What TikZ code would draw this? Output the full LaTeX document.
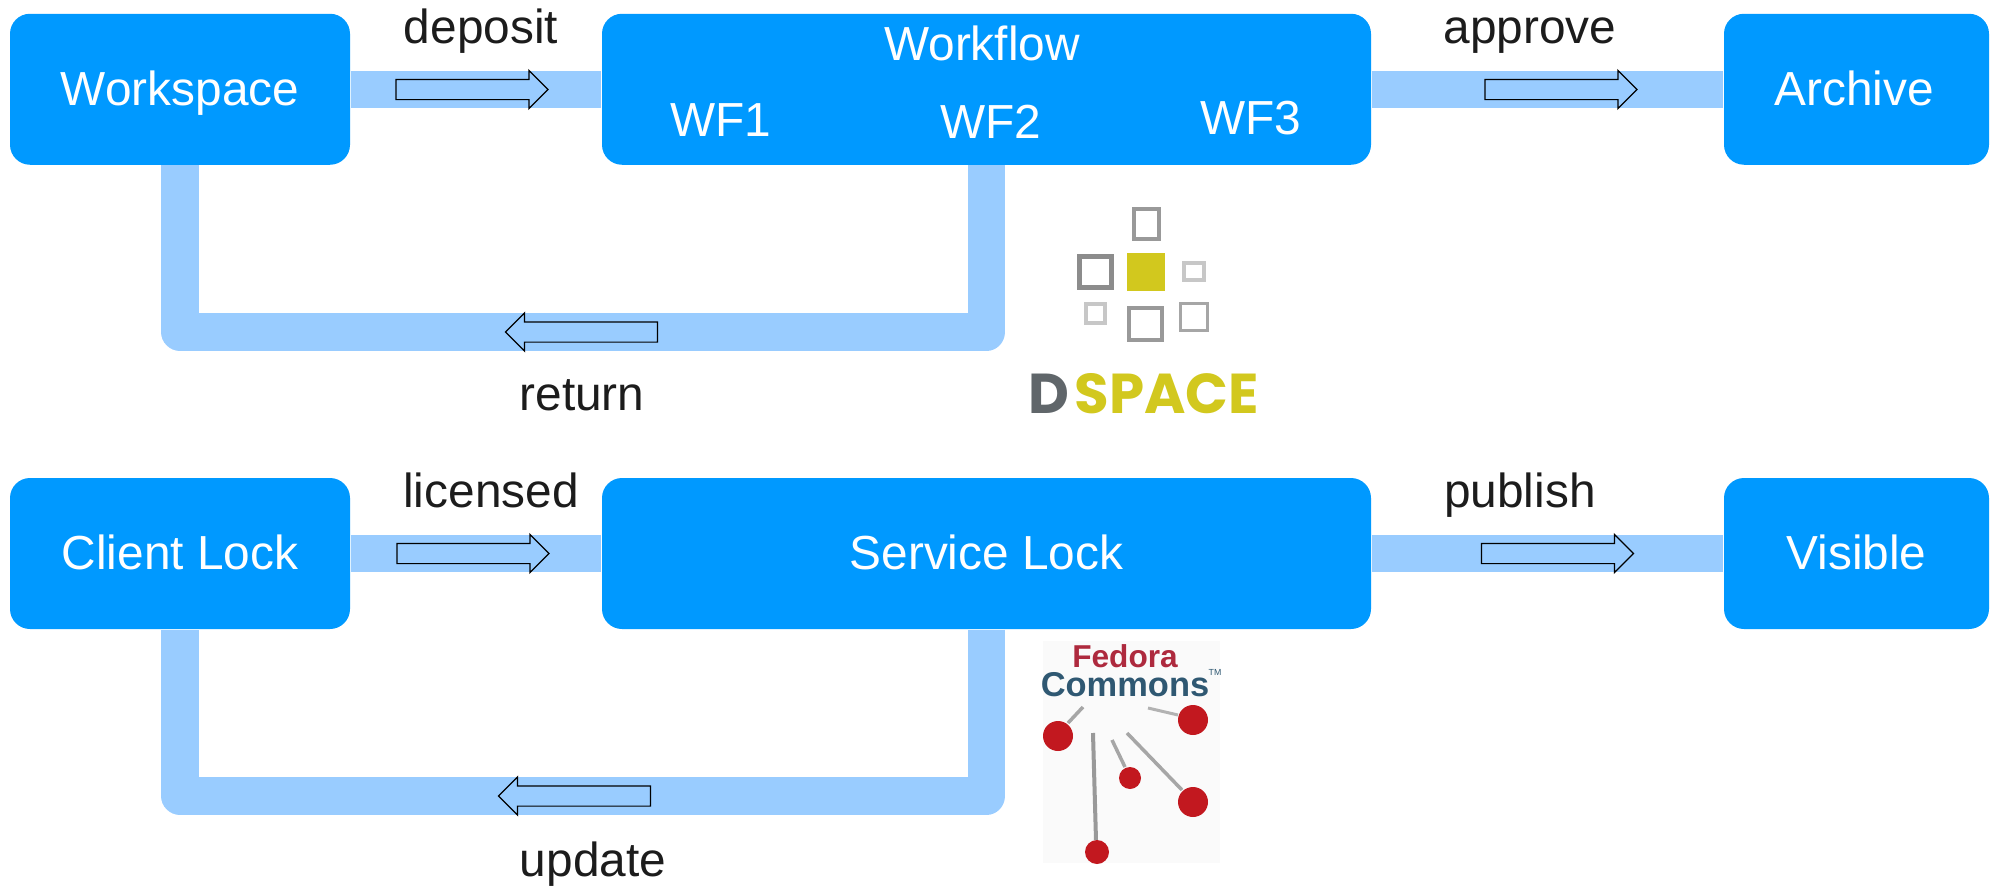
\documentclass[tikz,border=0pt]{standalone}
\usepackage{fontspec}
\setmainfont{Liberation Sans}
\newfontfamily\logofont{Poppins}
\usetikzlibrary{shapes.arrows}
\definecolor{boxblue}{HTML}{0099FF}
\definecolor{bandblue}{HTML}{99CCFF}
\definecolor{labelblack}{HTML}{1C1C1C}
\definecolor{dsyellow}{HTML}{D2C81E}
\definecolor{dsgray}{HTML}{60666A}
\definecolor{fcred}{HTML}{C2181F}
\definecolor{fcwine}{HTML}{AE2A3E}
\definecolor{fcblue}{HTML}{2F5872}
\tikzset{
	blockbox/.style={fill=boxblue, rounded corners=0.2cm, minimum height=1.51cm, inner sep=0pt, text=white, text height=0.32cm, text depth=0cm, font=\fontsize{13.6}{16}\selectfont},
	boxlabel/.style={anchor=base, inner sep=0pt, text=white, font=\fontsize{13.6}{16}\selectfont},
	flowlabel/.style={anchor=base, inner sep=0pt, text=labelblack, font=\fontsize{13.6}{16}\selectfont},
	band/.style={line width=0.375cm, color=bandblue, line join=round},
	flowarrow/.style={single arrow, draw=black, line width=0.12mm, inner sep=0pt, text height=0.19cm, text depth=0cm, minimum height=1.52cm, single arrow head extend=0.09cm, single arrow head indent=0cm},
	logotext/.style={anchor=base west, inner sep=0pt, font=\logofont\bfseries\fontsize{16}{19}\selectfont},
}
\begin{document}
\begin{tikzpicture}
			%%%%% START %%%%%
			\useasboundingbox (0, 0) rectangle (19.99, 8.85);
			
			\node[blockbox, minimum width=3.4cm] (workspace) at (1.8, 7.9575) {Workspace};
			\node[blockbox, minimum width=7.69cm] (workflow) at (9.865, 7.9575) {};
			\node[blockbox, minimum width=2.65cm] (archive) at (18.565, 7.9575) {Archive\hspace*{0.05cm}};
			
			\node[boxlabel] (workflowtitle) at (9.82, 8.25) {Workflow};
			\node[boxlabel] (wfone) at (7.21, 7.49) {WF1};
			\node[boxlabel] (wftwo) at (9.91, 7.47) {WF2};
			\node[boxlabel] (wfthree) at (12.51, 7.51) {WF3};
			
			\coordinate (returnmid) at (5.8, 5.53);
			\draw[band] (workspace) -- (workflow);
			\draw[band] (workflow) -- (archive);
			\draw[band] (workflow.south) |- (returnmid) -| (workspace.south);
			
			\node[flowarrow] (deposita) at (4.67, 7.955) {};
			\node[flowarrow] (approvea) at (15.56, 7.955) {};
			\node[flowarrow, shape border rotate=180] (returna) at (5.865, 5.53) {};
			
			\node[flowlabel] (deposit) at (4.81, 8.42) {deposit};
			\node[flowlabel] (approve) at (15.3, 8.42) {approve};
			\node[flowlabel] (return) at (5.82, 4.75) {return};
			
			%%%%% DSPACE LOGO %%%%%
			\draw[line width=0.4mm, color=black!40] (11.34, 6.76) rectangle (11.59, 6.46);
			\draw[line width=0.5mm, color=black!45] (10.79, 6.29) rectangle (11.11, 5.98);
			\fill[color=dsyellow] (11.27, 6.32) rectangle (11.65, 5.94);
			\draw[line width=0.4mm, color=black!22] (11.84, 6.22) rectangle (12.04, 6.05);
			\draw[line width=0.4mm, color=black!22] (10.86, 5.81) rectangle (11.05, 5.62);
			\draw[line width=0.4mm, color=black!40] (11.29, 5.77) rectangle (11.62, 5.45);
			\draw[line width=0.3mm, color=black!35] (11.8, 5.82) rectangle (12.07, 5.55);
			\node[logotext, text=dsgray] (dsd) at (10.28, 4.72) {D};
			\node[logotext, text=dsyellow] (dsspace) at (10.74, 4.72) {SPACE};
			
			%%%%% BOTTOM ROW %%%%%
			\node[blockbox, minimum width=3.4cm] (clientlock) at (1.8, 3.315) {Client Lock};
			\node[blockbox, minimum width=7.69cm] (servicelock) at (9.865, 3.315) {Service Lock};
			\node[blockbox, minimum width=2.65cm] (visible) at (18.565, 3.315) {Visible};
			
			\coordinate (updatemid) at (5.8, 0.89);
			\draw[band] (clientlock) -- (servicelock);
			\draw[band] (servicelock) -- (visible);
			\draw[band] (servicelock.south) |- (updatemid) -| (clientlock.south);
			
			\node[flowarrow] (licenseda) at (4.68, 3.315) {};
			\node[flowarrow] (publisha) at (15.525, 3.315) {};
			\node[flowarrow, shape border rotate=180] (updatea) at (5.795, 0.89) {};
			
			\node[flowlabel] (licensed) at (4.91, 3.78) {licensed};
			\node[flowlabel] (publish) at (15.2, 3.78) {publish};
			\node[flowlabel] (update) at (5.93, 0.09) {update};
			
			%%%%% FEDORA LOGO %%%%%
			\fill[color=black!2] (10.43, 2.44) rectangle (12.2, 0.22);
			\node[anchor=base, inner sep=0pt, text=fcwine, font=\bfseries\fontsize{9}{11}\selectfont] (fedora) at (11.25, 2.18) {Fedora};
			\node[anchor=base, inner sep=0pt, text=fcblue, font=\bfseries\fontsize{9.8}{11}\selectfont] (commons) at (11.25, 1.89) {Commons};
			\node[anchor=base west, inner sep=0pt, text=fcblue, font=\fontsize{2.5}{3}\selectfont] (tmark) at (12.08, 2.1) {TM};
			\draw[line width=0.35mm, color=black!35] (10.83, 1.78) -- (10.68, 1.62);
			\draw[line width=0.3mm, color=black!30] (11.48, 1.77) -- (11.78, 1.7);
			\draw[line width=0.35mm, color=black!35] (11.12, 1.45) -- (11.25, 1.18);
			\draw[line width=0.35mm, color=black!35] (11.27, 1.52) -- (11.82, 0.95);
			\draw[line width=0.4mm, color=black!40] (10.93, 1.52) -- (10.96, 0.45);
			\fill[color=fcred] (10.58, 1.49) circle (0.15);
			\fill[color=fcred] (11.93, 1.65) circle (0.15);
			\fill[color=fcred] (11.3, 1.07) circle (0.11);
			\fill[color=fcred] (11.93, 0.83) circle (0.15);
			\fill[color=fcred] (10.97, 0.33) circle (0.12);
			%%%%% END %%%%%
		\end{tikzpicture}
\end{document}
